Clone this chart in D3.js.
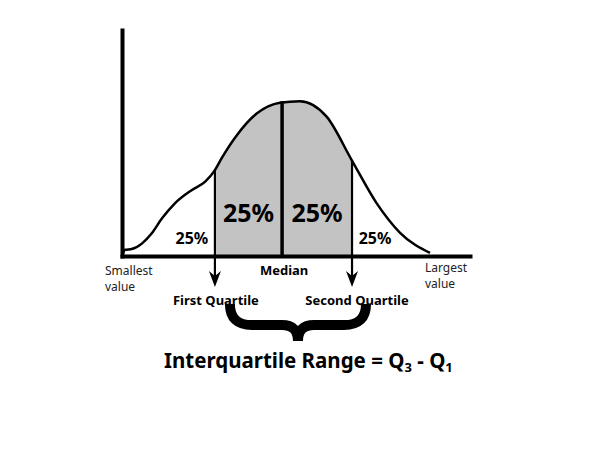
<!DOCTYPE html>
<html>
<head>
<meta charset="utf-8">
<script src="https://cdn.jsdelivr.net/npm/d3@7"></script>
<style>
  body { margin: 0; background: #fff; }
  text { font-family: "Noto Sans", "Open Sans", sans-serif; fill: #000; }
</style>
</head>
<body>
<div id="chart-area"></div>
<script>
const width = 600, height = 450;

// distribution outline (x in %, y relative to the peak)
const curveX = [0, 0.9, 2.8, 5.7, 8.5, 11.4, 15.2, 20.0, 23.9, 26.7, 28.6, 33.0, 38.7, 45.4, 51.1, 58.8, 66.0, 73.2, 79.9, 88.5];
const curveY = [0.0, 0.04, 0.045, 0.08, 0.145, 0.24, 0.34, 0.425, 0.48, 0.555, 0.63, 0.78, 0.92, 0.99, 1.0, 0.9, 0.62, 0.34, 0.15, 0.02];

// quartile markers
const quartileNames = ["First Quartile", "Median", "Second Quartile"];
const quartileX = [26.7, 46.0, 66.1];
const quartileY = [0.555, 1.0, 0.62];

const shareLabels = ["25%", "25%", "25%", "25%"];
const endLabels = [["Smallest", "value"], ["Largest", "value"]];

const svg = d3.select("#chart-area")
  .append("svg")
  .attr("width", width)
  .attr("height", height);

const x = d3.scaleLinear().domain([0, 100]).range([122, 470]);
const y = d3.scaleLinear().domain([0, 1.46]).range([256, 30]);

const pts = curveX.map((d, i) => [d, curveY[i]]);

//clip for the shaded middle half
svg.append("clipPath")
  .attr("id", "iqr")
  .append("rect")
  .attr("x", x(quartileX[0]))
  .attr("y", 0)
  .attr("width", x(quartileX[2]) - x(quartileX[0]))
  .attr("height", y(0));

const area = d3.area()
  .x(d => x(d[0]))
  .y0(y(0))
  .y1(d => y(d[1]))
  .curve(d3.curveMonotoneX);

svg.append("path")
  .datum(pts)
  .attr("clip-path", "url(#iqr)")
  .attr("fill", "#c3c3c3")
  .attr("d", area);

const line = d3.line()
  .x(d => x(d[0]))
  .y(d => y(d[1]))
  .curve(d3.curveMonotoneX);

svg.append("path")
  .datum(pts)
  .attr("fill", "none")
  .attr("stroke", "#000")
  .attr("stroke-width", 2.5)
  .attr("d", line);

//axes, no ticks
const xAxis = svg.append("g")
  .attr("transform", "translate(0," + y(0) + ")")
  .call(d3.axisBottom(x).ticks(0).tickSizeOuter(0));
const yAxis = svg.append("g")
  .attr("transform", "translate(" + x(0) + ",0)")
  .call(d3.axisLeft(y).ticks(0).tickSizeOuter(0));
[xAxis, yAxis].forEach(a => a.select(".domain").attr("stroke", "#000").attr("stroke-width", 4).attr("stroke-linecap", "square"));

//quartile lines + arrows
const arrowEnd = 287;
quartileX.forEach((q, i) => {
  const px = x(q);
  const mid = i === 1;
  svg.append("line")
    .attr("x1", px).attr("x2", px)
    .attr("y1", y(quartileY[i]))
    .attr("y2", mid ? y(0) : arrowEnd - 10)
    .attr("stroke", "#000")
    .attr("stroke-width", mid ? 3.5 : 2.2);
  if (!mid) {
    svg.append("path")
      .attr("d", `M${px - 6},${arrowEnd - 16}L${px},${arrowEnd}L${px + 6},${arrowEnd - 16}L${px},${arrowEnd - 11}Z`)
      .attr("fill", "#000");
  }
});

//percent labels
const bigX = [(x(quartileX[0]) + x(quartileX[1])) / 2, (x(quartileX[1]) + x(quartileX[2])) / 2];
svg.selectAll(".big")
  .data(bigX)
  .enter()
  .append("text")
  .attr("x", d => d)
  .attr("y", 222)
  .attr("text-anchor", "middle")
  .style("font-size", "25px")
  .style("font-weight", "bold")
  .text((d, i) => shareLabels[i + 1]);

const smallX = [x(quartileX[0]) - 23, x(quartileX[2]) + 23];
svg.selectAll(".small")
  .data(smallX)
  .enter()
  .append("text")
  .attr("x", d => d)
  .attr("y", 244)
  .attr("text-anchor", "middle")
  .style("font-size", "16px")
  .style("font-weight", "bold")
  .text((d, i) => shareLabels[i === 0 ? 0 : 3]);

//end labels
const endX = [105, 425];
endLabels.forEach((lbl, i) => {
  lbl.forEach((s, j) => {
    svg.append("text")
      .attr("x", endX[i])
      .attr("y", (i === 0 ? 275 : 272) + j * 16)
      .style("font-size", "12px")
      .style("fill", "#222")
      .text(s);
  });
});

//quartile names
svg.append("text")
  .attr("x", x(quartileX[1]) + 2)
  .attr("y", 275)
  .attr("text-anchor", "middle")
  .style("font-size", "13px")
  .style("font-weight", "bold")
  .text(quartileNames[1]);

[0, 2].forEach(i => {
  svg.append("text")
    .attr("x", x(quartileX[i]) + (i === 0 ? 1 : 5))
    .attr("y", 305)
    .attr("text-anchor", "middle")
    .style("font-size", "13px")
    .style("font-weight", "bold")
    .text(quartileNames[i]);
});

//curly brace
const bl = x(quartileX[0]) + 15, br = x(quartileX[2]) + 14, bc = (bl + br) / 2;
svg.append("path")
  .attr("d", `M${bl},304 Q${bl},325 ${bl + 22},325 L${bc - 16},325 Q${bc},325 ${bc},341 Q${bc},325 ${bc + 16},325 L${br - 22},325 Q${br},325 ${br},304`)
  .attr("fill", "none")
  .attr("stroke", "#000")
  .attr("stroke-width", 10);

//title
const title = svg.append("text")
  .attr("x", 164)
  .attr("y", 368)
  .style("font-size", "20.5px")
  .style("font-weight", "bold");
title.append("tspan").text("Interquartile Range = Q");
title.append("tspan").attr("dy", 4).style("font-size", "13px").text("3");
title.append("tspan").attr("dy", -4).text(" - Q");
title.append("tspan").attr("dy", 4).style("font-size", "13px").text("1");
</script>
</body>
</html>
